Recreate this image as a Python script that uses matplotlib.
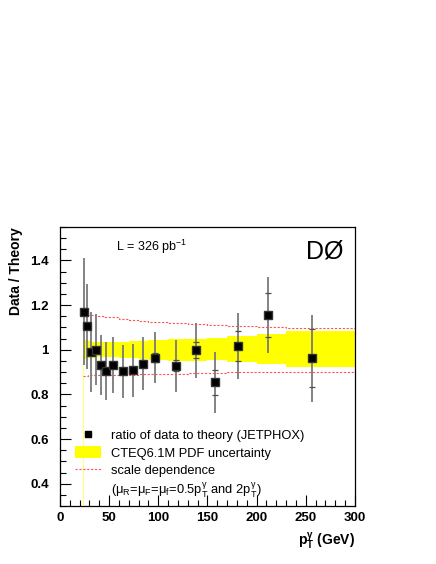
import numpy as np
import matplotlib.pyplot as plt
from matplotlib.lines import Line2D
from matplotlib.patches import Patch
from matplotlib.ticker import MultipleLocator

plt.rcParams['font.family'] = ['Liberation Sans', 'DejaVu Sans']
plt.rcParams['mathtext.fontset'] = 'custom'
plt.rcParams['mathtext.rm'] = 'Liberation Sans'
plt.rcParams['mathtext.it'] = 'Liberation Sans:italic'
plt.rcParams['mathtext.bf'] = 'Liberation Sans:bold'

# data / theory points
pt = [24, 27, 32, 36.5, 41.5, 47, 54, 64, 74, 84, 97, 118, 138, 158, 181, 212, 256]
ratio = [1.17, 1.105, 0.99, 1.0, 0.932, 0.905, 0.93, 0.903, 0.908, 0.938, 0.965,
         0.928, 0.997, 0.855, 1.017, 1.155, 0.962]
err_tot = [0.24, 0.19, 0.18, 0.16, 0.135, 0.13, 0.125, 0.12, 0.12, 0.117, 0.116,
           0.118, 0.125, 0.137, 0.148, 0.17, 0.196]
err_stat = [0.008, 0.008, 0.008, 0.008, 0.009, 0.01, 0.011, 0.012, 0.014, 0.016,
            0.019, 0.024, 0.036, 0.056, 0.066, 0.1, 0.13]

# theory bands per pT bin
edges = [23, 25, 28, 32, 36, 40, 45, 50, 60, 70, 80, 90, 110, 130, 150, 170, 200, 230, 300]
pdf_up = [1.045, 1.042, 1.038, 1.035, 1.034, 1.033, 1.033, 1.034, 1.036, 1.038, 1.040,
          1.043, 1.047, 1.049, 1.052, 1.063, 1.070, 1.082]
pdf_lo = [0.957, 0.960, 0.963, 0.965, 0.966, 0.967, 0.967, 0.966, 0.964, 0.962, 0.959,
          0.955, 0.950, 0.950, 0.952, 0.943, 0.936, 0.922]
scale_up = [1.157, 1.157, 1.156, 1.155, 1.153, 1.151, 1.149, 1.145, 1.139, 1.134, 1.129,
            1.123, 1.118, 1.117, 1.111, 1.108, 1.102, 1.097]
scale_lo = [0.883, 0.884, 0.885, 0.886, 0.887, 0.888, 0.888, 0.888, 0.888, 0.889, 0.890,
            0.891, 0.893, 0.895, 0.895, 0.901, 0.901, 0.901]

fig = plt.figure(figsize=(4.36, 5.64), dpi=100)
ax = fig.add_axes([0.1376, 0.1028, 0.6766, 0.4947])

ylo = 0.3
e = np.array(edges)
up = np.r_[pdf_up, pdf_up[-1]]
lo = np.r_[pdf_lo, pdf_lo[-1]]
ax.fill_between(e, lo, up, step='post', color='#ffff00', lw=0, zorder=1)
ax.vlines(edges[0], ylo, pdf_lo[0], color='#ffff80', lw=0.8, zorder=1)
ax.step(e, np.r_[scale_up, scale_up[-1]], where='post', color='#ff5555',
        lw=0.8, dashes=(2, 1.5), zorder=2)
ax.step(e, np.r_[scale_lo, scale_lo[-1]], where='post', color='#ff5555',
        lw=0.8, dashes=(2, 1.5), zorder=2)

ax.errorbar(pt, ratio, yerr=err_tot, fmt='none', ecolor='#7a7a7a', elinewidth=1.3, zorder=3)
ax.errorbar(pt, ratio, yerr=err_stat, fmt='none', ecolor='#505050', elinewidth=0,
            capsize=2.5, capthick=0.9, zorder=3)
ax.plot(pt, ratio, 's', color='black', ms=6, mec='#333333', zorder=4)

ax.set_xlim(0, 300)
ax.set_ylim(ylo, 1.55)
ax.xaxis.set_major_locator(MultipleLocator(50))
ax.xaxis.set_minor_locator(MultipleLocator(10))
ax.yaxis.set_major_locator(MultipleLocator(0.2))
ax.yaxis.set_minor_locator(MultipleLocator(0.05))
ax.set_yticks([0.4, 0.6, 0.8, 1.0, 1.2, 1.4])
ax.set_yticklabels(['0.4', '0.6', '0.8', '1', '1.2', '1.4'])
ax.tick_params(which='both', direction='in', top=False, right=False, width=0.8)
ax.tick_params(which='major', length=8)
ax.tick_params(which='minor', length=4)
ax.tick_params(axis='y', pad=8)
ax.tick_params(axis='x', pad=4)
for lab in ax.get_xticklabels() + ax.get_yticklabels():
    lab.set_fontweight('bold')
    lab.set_fontsize(9.5)
for s in ax.spines.values():
    s.set_linewidth(0.9)

ax.set_xlabel(r'p$_\mathbf{T}^\mathbf{γ}$ (GeV)', loc='right', fontsize=10,
              fontweight='bold', labelpad=5)
ax.set_ylabel('Data / Theory', loc='top', fontsize=10, fontweight='bold', labelpad=5)

ax.text(0.19, 0.93, r'L = 326 pb$^{-1}$', transform=ax.transAxes, fontsize=9,
        va='center')
ax.text(0.96, 0.955, 'DØ', transform=ax.transAxes, fontsize=18, ha='right', va='top')

handles = [Line2D([], [], marker='s', color='black', ls='none', ms=4),
           Patch(facecolor='#ffff00', edgecolor='none'),
           Line2D([], [], color='#ff5555', lw=0.8, dashes=(2, 1.5)),
           Line2D([], [], color='none')]
labels = ['ratio of data to theory (JETPHOX)', 'CTEQ6.1M PDF uncertainty',
          'scale dependence',
          r'($\mathrm{μ_R}$=$\mathrm{μ_F}$=$\mathrm{μ_f}$=0.5p$_\mathrm{T}^\mathrm{γ}$ and 2p$_\mathrm{T}^\mathrm{γ}$)']
ax.legend(handles, labels, loc='upper left', bbox_to_anchor=(0.05, 0.276),
          frameon=False, fontsize=9.3, handlelength=2.0, handleheight=1.0,
          labelspacing=0.32, handletextpad=0.78, borderaxespad=0, borderpad=0)

fig.savefig('out.png', dpi=100)
